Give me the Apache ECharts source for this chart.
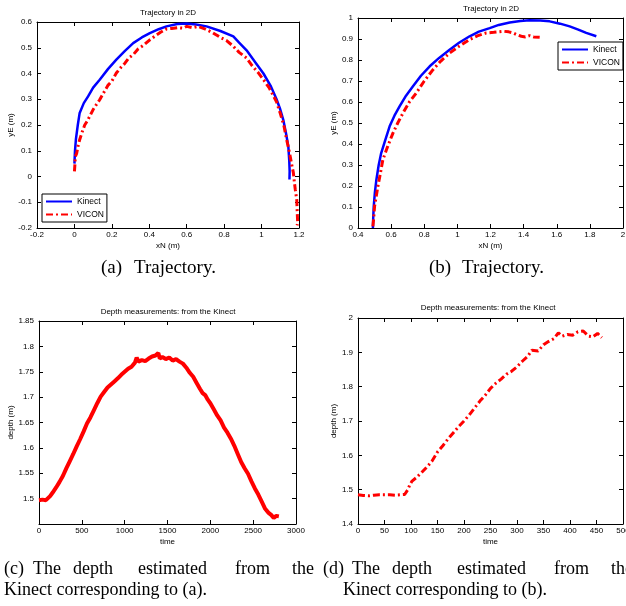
<!DOCTYPE html>
<html><head><meta charset="utf-8">
<script src="https://cdn.jsdelivr.net/npm/echarts/dist/echarts.min.js"></script>
<style>html,body{margin:0;padding:0;background:#fff;overflow:hidden;}#c{width:626px;height:606px;}</style>
</head><body><div id="c"></div>
<script>
// ---------- (a) Trajectory in 2D ----------
var kinectAX = [0.0,0.003,0.008,0.018,0.028,0.05,0.073,0.1,0.135,0.18,0.224,0.27,0.314,0.36,0.403,0.45,0.492,0.55,0.6,0.65,0.706,0.78,0.849,0.88,0.92,0.97,1.01,1.05,1.08,1.10,1.116,1.13,1.143,1.148,1.15,1.149];
var kinectAY = [0.05,0.10,0.145,0.2,0.247,0.285,0.311,0.345,0.376,0.418,0.454,0.488,0.518,0.54,0.557,0.572,0.583,0.592,0.594,0.59,0.583,0.565,0.544,0.52,0.49,0.44,0.40,0.35,0.30,0.26,0.22,0.17,0.117,0.06,0.02,-0.012];
var viconAX = [0.0,0.002,0.005,0.012,0.02,0.028,0.04,0.055,0.068,0.082,0.1,0.118,0.135,0.16,0.18,0.2,0.224,0.25,0.27,0.29,0.314,0.34,0.37,0.403,0.43,0.46,0.492,0.52,0.55,0.58,0.6,0.63,0.66,0.7,0.74,0.78,0.813,0.85,0.88,0.92,0.95,0.98,1.01,1.04,1.06,1.08,1.1,1.12,1.134,1.15,1.16,1.17,1.175,1.18,1.188,1.19,1.193,1.19];
var viconAY = [0.02,0.04,0.078,0.09,0.12,0.143,0.17,0.20,0.215,0.234,0.26,0.28,0.298,0.33,0.355,0.37,0.402,0.425,0.44,0.46,0.473,0.495,0.51,0.531,0.545,0.56,0.573,0.575,0.578,0.576,0.583,0.578,0.583,0.572,0.558,0.54,0.528,0.505,0.482,0.46,0.43,0.405,0.376,0.345,0.318,0.29,0.245,0.195,0.143,0.09,0.05,0.014,-0.02,-0.05,-0.09,-0.13,-0.18,-0.19];

// ---------- (b) Trajectory in 2D ----------
var kinectBX = [0.49,0.492,0.495,0.502,0.511,0.525,0.54,0.565,0.591,0.62,0.651,0.69,0.732,0.78,0.833,0.89,0.953,1.01,1.074,1.13,1.195,1.25,1.316,1.38,1.436,1.5,1.557,1.62,1.678,1.73,1.778,1.839];
var kinectBY = [0.0,0.05,0.103,0.17,0.23,0.3,0.357,0.42,0.484,0.535,0.579,0.63,0.675,0.725,0.77,0.81,0.849,0.882,0.913,0.935,0.952,0.967,0.979,0.986,0.989,0.988,0.984,0.973,0.96,0.945,0.929,0.913];
var viconBX = [0.49,0.495,0.5,0.51,0.52,0.535,0.55,0.58,0.611,0.64,0.672,0.71,0.752,0.8,0.853,0.9,0.953,1.01,1.074,1.12,1.175,1.22,1.276,1.31,1.336,1.36,1.386,1.41,1.436,1.46,1.497];
var viconBY = [0.008,0.05,0.103,0.15,0.198,0.26,0.325,0.39,0.452,0.5,0.548,0.6,0.643,0.7,0.754,0.795,0.833,0.865,0.897,0.915,0.929,0.932,0.937,0.934,0.929,0.92,0.913,0.91,0.916,0.91,0.908];

// ---------- (c) Depth measurements ----------
var timeC = [0,40,80,100,130,160,200,240,280,320,360,400,440,480,520,560,600,640,680,720,760,800,840,880,920,960,1000,1040,1080,1120,1140,1160,1200,1240,1280,1320,1360,1393,1410,1440,1480,1520,1560,1600,1640,1680,1720,1760,1800,1840,1880,1910,1940,1970,2000,2040,2080,2120,2160,2200,2240,2280,2320,2360,2400,2440,2480,2520,2560,2600,2640,2680,2710,2740,2770,2800];
var depthC = [1.497,1.498,1.497,1.499,1.505,1.512,1.522,1.533,1.545,1.560,1.574,1.588,1.603,1.617,1.632,1.648,1.660,1.674,1.688,1.701,1.710,1.719,1.725,1.731,1.737,1.744,1.750,1.756,1.760,1.768,1.778,1.770,1.773,1.771,1.776,1.780,1.782,1.787,1.776,1.779,1.775,1.778,1.772,1.775,1.770,1.766,1.758,1.748,1.740,1.728,1.716,1.708,1.704,1.695,1.688,1.676,1.664,1.654,1.640,1.630,1.618,1.604,1.588,1.572,1.560,1.549,1.534,1.520,1.508,1.494,1.480,1.472,1.468,1.462,1.466,1.465];

// ---------- (d) Depth measurements ----------
var timeD = [0,10,20,30,40,50,60,70,80,88,94,98,102,110,120,130,140,150,160,170,180,190,200,210,220,230,240,250,260,270,280,290,300,310,320,328,340,350,360,370,378,385,395,405,415,425,435,443,452,460];
var depthD = [1.485,1.483,1.482,1.484,1.485,1.485,1.485,1.484,1.485,1.486,1.500,1.515,1.525,1.535,1.550,1.566,1.584,1.610,1.628,1.648,1.666,1.684,1.700,1.718,1.738,1.758,1.775,1.795,1.810,1.822,1.836,1.845,1.858,1.874,1.888,1.906,1.904,1.922,1.932,1.940,1.957,1.947,1.952,1.950,1.960,1.962,1.947,1.945,1.955,1.943];

var titleText = 'Trajectory in 2D';
var depthTitle = 'Depth measurements: from the Kinect';
var names = ['Kinect', 'VICON'];

function zip(a, b) { return a.map(function (v, i) { return [v, b[i]]; }); }

var SANS = '"Liberation Sans", Arial, sans-serif';
var SERIF = '"Liberation Serif", "Times New Roman", serif';
var LAB = { fontSize: 8, color: '#000', fontFamily: SANS };
function fmt(v) { return String(+(+v).toFixed(4)); }

var grids = [
  { left: 37, top: 22, width: 262, height: 206, outerBoundsMode: 'none', containLabel: false },
  { left: 358, top: 18, width: 265, height: 210, outerBoundsMode: 'none', containLabel: false },
  { left: 39, top: 321, width: 257, height: 203, outerBoundsMode: 'none', containLabel: false },
  { left: 358, top: 318, width: 265, height: 206, outerBoundsMode: 'none', containLabel: false }
];
var axCfg = [
  { x: [-0.2, 1.2, 0.2], y: [-0.2, 0.6, 0.1], xn: 'xN (m)', yn: 'yE (m)', yGap: 18, showMinY: true },
  { x: [0.4, 2, 0.2], y: [0, 1, 0.1], xn: 'xN (m)', yn: 'yE (m)', yGap: 19, showMinY: true },
  { x: [0, 3000, 500], y: [1.45, 1.85, 0.05], xn: 'time', yn: 'depth (m)', yGap: 20, showMinY: false },
  { x: [0, 500, 50], y: [1.4, 2, 0.1], xn: 'time', yn: 'depth (m)', yGap: 18, showMinY: true }
];

var xAxes = [], yAxes = [];
axCfg.forEach(function (c, g) {
  var line = { show: true, onZero: false, lineStyle: { color: '#000', width: 1 } };
  var tick = { show: true, inside: true, length: 4, lineStyle: { color: '#000', width: 1 } };
  xAxes.push({ type: 'value', gridIndex: g, position: 'bottom', min: c.x[0], max: c.x[1], interval: c.x[2],
    axisLine: line, axisTick: tick, splitLine: { show: false },
    axisLabel: Object.assign({ margin: 3, formatter: fmt, hideOverlap: false }, LAB),
    name: c.xn, nameLocation: 'middle', nameGap: 14, nameTextStyle: LAB });
  xAxes.push({ type: 'value', gridIndex: g, position: 'top', min: c.x[0], max: c.x[1], interval: c.x[2],
    axisLine: line, axisTick: tick, splitLine: { show: false }, axisLabel: { show: false } });
  yAxes.push({ type: 'value', gridIndex: g, position: 'left', min: c.y[0], max: c.y[1], interval: c.y[2],
    axisLine: line, axisTick: tick, splitLine: { show: false },
    axisLabel: Object.assign({ margin: 5, showMinLabel: c.showMinY, formatter: fmt, hideOverlap: false }, LAB),
    name: c.yn, nameLocation: 'middle', nameGap: c.yGap, nameTextStyle: LAB });
  yAxes.push({ type: 'value', gridIndex: g, position: 'right', min: c.y[0], max: c.y[1], interval: c.y[2],
    axisLine: line, axisTick: tick, splitLine: { show: false }, axisLabel: { show: false } });
});

var blue = '#0000ff', red = '#ff0000';
var dashDot = [7, 3, 2, 3];
function ser(name, g, data, color, width, type) {
  return { type: 'line', name: name, xAxisIndex: 2 * g, yAxisIndex: 2 * g, data: data,
    symbol: 'none', showSymbol: false, animation: false, silent: true,
    lineStyle: { color: color, width: width, type: type }, itemStyle: { color: color } };
}
var series = [
  ser(names[0], 0, zip(kinectAX, kinectAY), blue, 2.5, 'solid'),
  ser(names[1], 0, zip(viconAX, viconAY), red, 3, dashDot),
  ser(names[0], 1, zip(kinectBX, kinectBY), blue, 2.5, 'solid'),
  ser(names[1], 1, zip(viconBX, viconBY), red, 3, dashDot),
  ser('depthC', 2, zip(timeC, depthC), red, 4, 'solid'),
  ser('depthD', 3, zip(timeD, depthD), red, 3, dashDot)
];

function legendAt(left, top) {
  return { data: names, orient: 'vertical', left: left, top: top, itemWidth: 26, itemHeight: 8, itemGap: 4,
    padding: [3, 3, 3, 3], borderColor: '#000', borderWidth: 1, backgroundColor: '#fff', borderRadius: 0,
    selectedMode: false, itemStyle: { opacity: 0, borderWidth: 0 },
    textStyle: { fontSize: 8.5, color: '#000', fontFamily: SANS } };
}

function txt(x, y, s, font, align) {
  return { type: 'text', x: x, y: y, silent: true,
    style: { text: s, font: font, fill: '#000', textAlign: align || 'left', align: align || 'left',
      textVerticalAlign: 'middle', verticalAlign: 'middle' } };
}
var tf = '8px ' + SANS;
var capFont = '18px ' + SERIF;
var topCapFont = '19px ' + SERIF;
var graphics = [
  txt(168, 13, titleText, tf, 'center'),
  txt(491, 9, titleText, tf, 'center'),
  txt(168, 312, depthTitle, tf, 'center'),
  txt(488, 308, depthTitle, tf, 'center'),
  txt(101, 268, '(a)', topCapFont),
  txt(134, 268, 'Trajectory.', topCapFont),
  txt(429, 268, '(b)', topCapFont),
  txt(462, 268, 'Trajectory.', topCapFont)
];
var capWords = ['(c)', 'The', 'depth', 'estimated', 'from', 'the'];
var capWordsD = ['(d)', 'The', 'depth', 'estimated', 'from', 'the'];
var wordX = [4, 33, 73, 138, 235, 292];
capWords.forEach(function (w, i) { graphics.push(txt(wordX[i], 569, w, capFont)); });
capWordsD.forEach(function (w, i) { graphics.push(txt(wordX[i] + 319, 569, w, capFont)); });
graphics.push(txt(4, 590, 'Kinect corresponding to (a).', capFont));
graphics.push(txt(343, 590, 'Kinect corresponding to (b).', capFont));

var chart = echarts.init(document.getElementById('c'), null, { renderer: 'canvas' });
chart.setOption({
  animation: false,
  backgroundColor: '#fff',
  grid: grids,
  xAxis: xAxes,
  yAxis: yAxes,
  legend: [legendAt(42, 194), legendAt(558, 42)],
  series: series,
  graphic: graphics
});
</script></body></html>
